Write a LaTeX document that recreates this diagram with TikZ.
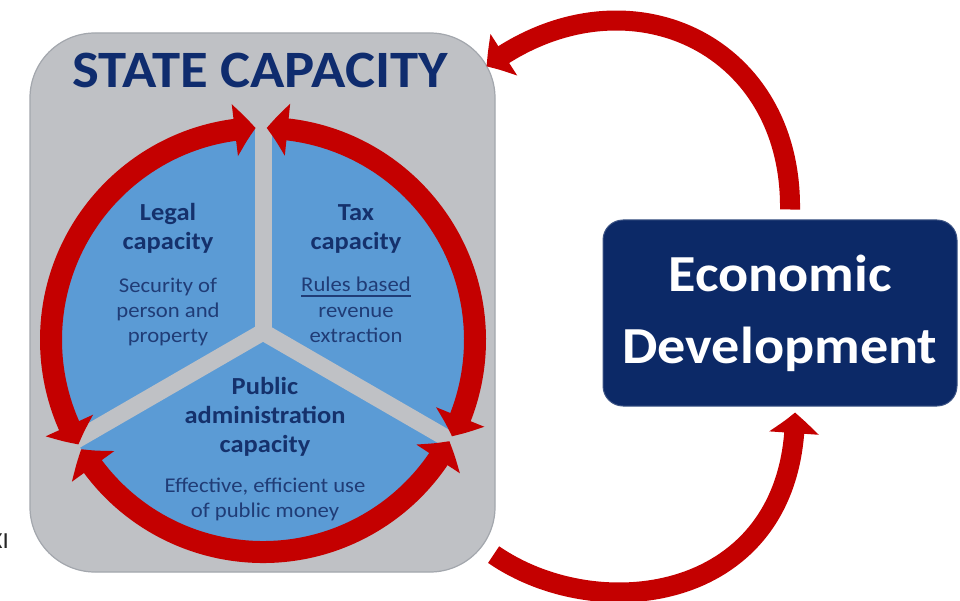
\documentclass[tikz,border=0pt]{standalone}
\usepackage{fontspec}
\setmainfont{Carlito}[FakeStretch=1.08]
\usetikzlibrary{arrows.meta,bending,calc}
\definecolor{ringred}{HTML}{C40000}
\definecolor{discblue}{HTML}{5B9BD5}
\definecolor{boxgray}{HTML}{BFC1C5}
\definecolor{edgegray}{HTML}{A3A7AD}
\definecolor{titlenavy}{HTML}{0F2C6E}
\definecolor{headnavy}{HTML}{15316C}
\definecolor{descnavy}{HTML}{203C76}
\definecolor{ednavy}{HTML}{0C2967}
\tikzset{
  statebox/.style={draw=edgegray, line width=1.2pt, fill=boxgray, rounded corners=65pt,
    minimum width=465pt, minimum height=539pt, inner sep=0pt},
  edbox/.style={draw=ednavy!80!white, line width=1pt, fill=ednavy, rounded corners=20pt,
    minimum width=354pt, minimum height=186pt, inner sep=0pt, text=white, align=center,
    font=\bfseries\fontsize{52}{72}\selectfont},
  titletext/.style={text=titlenavy, inner sep=0pt, anchor=base,
    font=\bfseries\fontsize{52.5}{60}\selectfont},
  headtext/.style={text=headnavy, inner sep=0pt, anchor=base, align=center,
    font=\bfseries\fontsize{24.5}{29}\selectfont},
  desctext/.style={text=descnavy, inner sep=0pt, anchor=base, align=center,
    font=\fontsize{21}{25}\selectfont},
  divider/.style={draw=boxgray, line width=17pt},
  ringarrow/.style={draw=ringred, line width=22pt,
    {Triangle[width=51pt,length=21pt,bend]}-{Triangle[width=51pt,length=21pt,bend]}},
  bigarrow/.style={draw=ringred, line width=20pt, -{Triangle[width=48pt,length=21pt,bend]}},
}
\begin{document}
\begin{tikzpicture}[x=1pt,y=-1pt]
\useasboundingbox (0,0) rectangle (960,601);
\fill[white] (0,0) rectangle (960,601);

% left edge label (cut by the page edge, as in the reference)
\node[text=black!85, inner sep=0pt, anchor=base east, font=\fontsize{23}{26}\selectfont] (xi) at (9,548) {XI};

% state capacity box
\node[statebox] (sc) at (262.5,302.5) {};
\node[titletext] (title) at (260,88) {STATE CAPACITY};

% disc and dividers
\coordinate (C) at (263,340);
\coordinate (J) at (263,332);
\fill[discblue] (C) circle[radius=212];
\draw[divider] (J) -- ($(J)+(0,-222)$);
\draw[divider] (J) -- ($(J)+(-192,111)$);
\draw[divider] (J) -- ($(J)+(192,111)$);

% ring arrows (angles negated because the y axis points down)
\draw[ringarrow] ($(C)+(-92:212)$) arc[start angle=-92, end angle=-209.5, radius=212];
\draw[ringarrow] ($(C)+(-211:212)$) arc[start angle=-211, end angle=-331.5, radius=212];
\draw[ringarrow] ($(C)+(-89:212)$) arc[start angle=-89, end angle=27, radius=212];

% texts in the three sectors (anchor = baseline of the last line)
\node[headtext] (legal) at (168,250) {Legal\\capacity};
\node[desctext] (legald) at (168,342) {Security of\\person and\\property};
\node[headtext] (tax) at (356,250) {Tax\\capacity};
\node[desctext] (taxu) at (356,292) {Rules based};
\draw[descnavy, line width=1.3pt] ($(taxu.base west)+(0,4)$) -- ($(taxu.base east)+(0,4)$);
\node[desctext] (taxd) at (356,342) {revenue\\extraction};
\node[headtext] (pub) at (265,452) {Public\\administration\\capacity};
\node[desctext] (pubd) at (265,517) {Effective, efficient use\\of public money};

% economic development
\node[edbox] (ed) at (780,313) {Economic\\Development};

% connectors between the two boxes
\coordinate (t1) at ($(ed.north)+(10,-10)$);
\coordinate (t2) at ($(sc.north east)+(-9,34)$);
\draw[bigarrow] (t1) .. controls (792,40) and (622,-35) .. (t2);
\coordinate (b1) at ($(sc.south east)+(-2,-18)$);
\coordinate (b2) at ($(ed.south)+(15,6)$);
\draw[bigarrow] (b1) .. controls (600,628) and (795,602) .. (b2);
\end{tikzpicture}
\end{document}
